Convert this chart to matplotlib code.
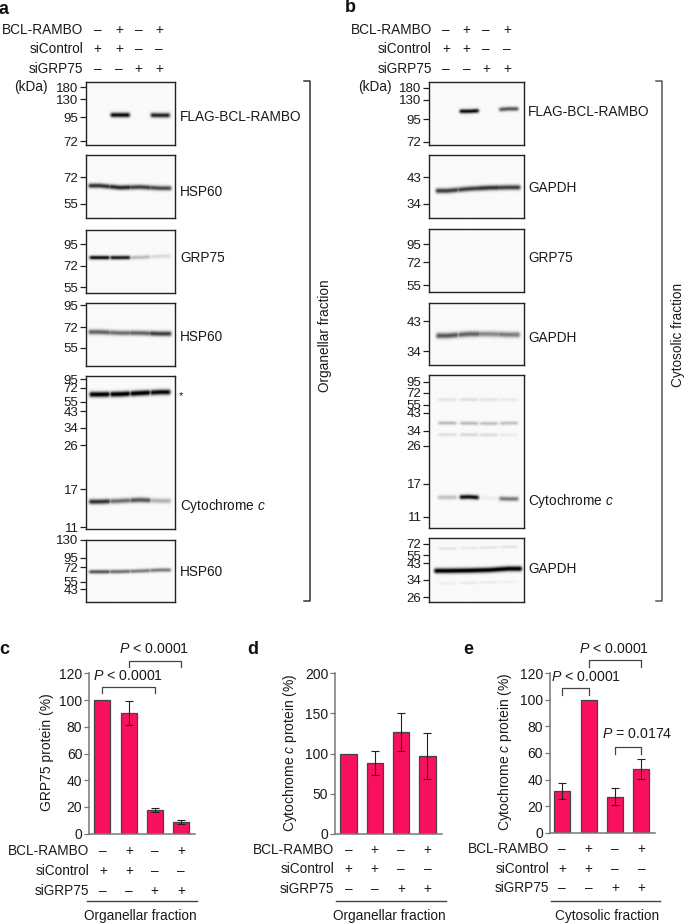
#Western blots en kwantificatie
import numpy as np
import matplotlib
matplotlib.use('Agg')
import matplotlib.pyplot as plt

plt.rcParams['font.family'] = ['Liberation Sans', 'DejaVu Sans']
plt.rcParams['mathtext.fontset'] = 'custom'
plt.rcParams['mathtext.rm'] = 'Liberation Sans'
plt.rcParams['mathtext.it'] = 'Liberation Sans:italic'

W, H = 685, 924
FS = 9.8
PINK = '#F9105F'

#data: lanes en treatments
row_names = ['BCL-RAMBO', 'siControl', 'siGRP75']
row_signs = [['–', '+', '–', '+'], ['+', '+', '–', '–'], ['–', '–', '+', '+']]

#data: staafdiagrammen
grp75_org = [100, 90, 18, 9]
grp75_org_err = [0, 9, 1.5, 1.5]
cyt_org = [100, 88, 127, 97]
cyt_org_err = [0, 15, 24, 29]
cyt_cyto = [31.5, 100, 27, 48]
cyt_cyto_err = [6, 0, 6.5, 7.5]

#data: marker labels (kDa)
a_kda = [['180', '130', '95', '72'], ['72', '55'], ['95', '72', '55'], ['95', '72', '55'],
         ['95', '72', '55', '43', '34', '26', '17', '11'], ['130', '95', '72', '55', '43']]
b_kda = [['180', '130', '95', '72'], ['43', '34'], ['95', '72', '55'], ['43', '34'],
         ['95', '72', '55', '43', '34', '26', '17', '11'], ['72', '55', '43', '34', '26']]
a_names = ['FLAG-BCL-RAMBO', 'HSP60', 'GRP75', 'HSP60', 'Cytochrome $\\mathit{c}$', 'HSP60']
b_names = ['FLAG-BCL-RAMBO', 'GAPDH', 'GRP75', 'GAPDH', 'Cytochrome $\\mathit{c}$', 'GAPDH']

#data: bandsterkte per lane (schatting)
a_flag = [0, 0.95, 0, 0.85]
a_hsp1 = [0.8, 0.85, 0.75, 0.7]
a_grp = [0.95, 0.9, 0.25, 0.13]
a_hsp2 = [0.6, 0.55, 0.6, 0.75]
a_star = [1.05, 1.05, 1.05, 0.98]
a_cyt = [0.8, 0.55, 0.65, 0.28]
a_hsp3 = [0.65, 0.55, 0.5, 0.5]
b_flag = [0, 0.95, 0, 0.65]
b_gapdh1 = [0.75, 0.75, 0.8, 0.75]
b_gapdh2 = [0.65, 0.6, 0.45, 0.5]
b_faint1 = [0.09, 0.11, 0.09, 0.07]
b_faint2 = [0.25, 0.25, 0.22, 0.22]
b_faint3 = [0.11, 0.14, 0.12, 0.06]
b_cyt = [0.22, 0.95, 0.05, 0.5]
b_gapdh3 = [1.05, 1.05, 1.05, 1.05]
b_faint4 = [0.09, 0.07, 0.09, 0.09]
b_faint5 = [0.05, 0.07, 0.06, 0.04]


def px_axes(fig, l, t, r, b):
    return fig.add_axes([l / W, 1 - b / H, (r - l) / W, (b - t) / H])


def draw_blot(fig, box, ticks, labels, bands, lanes, bg=0.02):
    l, t, r, b = box
    ax = px_axes(fig, l, t, r, b)
    xs = np.linspace(l, r, int((r - l) * 3))
    ys = np.linspace(t, b, int((b - t) * 3))
    X, Y = np.meshgrid(xs, ys)
    dark = np.zeros(X.shape)
    for signal, ypos, sigma, halfw in bands:
        yc = np.interp(X, lanes, ypos)   #band loopt door tussen de lanes
        for cx, s in zip(lanes, signal):
            if s == 0:
                continue
            across = np.clip((halfw - np.abs(X - cx)) / 5.0 + 0.5, 0, 1)
            across = across * across * (3 - 2 * across)
            blob = s * across * np.exp(-0.5 * ((Y - yc) / sigma) ** 2)
            dark = np.maximum(dark, blob)
    ax.imshow(1 - np.clip(dark + bg, 0, 1), cmap='gray', vmin=0, vmax=1, extent=(l, r, b, t), aspect='auto', interpolation='bilinear')
    ax.set_xlim(l, r)
    ax.set_ylim(b, t)
    ax.set_xticks([])
    ax.set_yticks(ticks)
    ax.set_yticklabels(labels, fontsize=FS - 0.3, color='#1a1a1a')
    ax.tick_params(axis='y', length=4.2, width=0.9, pad=0.8, color='#222222')
    for s in ax.spines.values():
        s.set_linewidth(1.0)
        s.set_color('#222222')
    return ax


def bar_panel(fig, box, values, errors, ymax, step, xleft, xright, ylabel, ylabel_x):
    l, t, r, b = box
    ax = px_axes(fig, l, t, r, b)
    pos = [1, 2, 3, 4]
    ax.bar(pos, values, width=0.61, color=PINK, edgecolor='#444444', linewidth=0.9, zorder=2)
    for p, v, e in zip(pos, values, errors):
        if e > 0:
            ax.errorbar(p, v, yerr=e, color='#222222', capsize=3.2, elinewidth=0.8, capthick=0.8, zorder=3)
    ax.set_xlim(xleft, xright)
    ax.set_ylim(0, ymax)
    ax.set_yticks(np.arange(0, ymax + 1, step))
    ax.set_xticks([])
    ax.tick_params(axis='y', labelsize=FS + 0.2, length=3.5, width=0.9, pad=1.5, color='#777777', labelcolor='#1a1a1a')
    ax.spines['top'].set_visible(False)
    ax.spines['right'].set_visible(False)
    ax.spines['left'].set_color('#777777')
    ax.spines['bottom'].set_color('#777777')
    ax.spines['left'].set_linewidth(1.1)
    ax.spines['bottom'].set_linewidth(1.1)
    ax.patch.set_alpha(0)
    page.text(ylabel_x, (t + b) / 2 - 1, ylabel, rotation=90, ha='center', va='center', fontsize=FS + 0.2, color='#1a1a1a')
    return ax


def sig_bracket(ax, x1, x2, top, drop):
    ax.plot([x1, x1, x2, x2], [top - drop, top, top, top - drop], color='#444444', lw=0.9, clip_on=False, zorder=4)


def treatment_rows(xs, ys, right):
    for name, signs, y in zip(row_names, row_signs, ys):
        page.text(right, y, name, ha='right', va='center', fontsize=FS, color='#1a1a1a')
        for x, sign in zip(xs, signs):
            page.text(x, y, sign, ha='center', va='center', fontsize=FS, color='#1a1a1a')


fig = plt.figure(figsize=(W / 100, H / 100), dpi=100)
page = fig.add_axes([0, 0, 1, 1])
page.set_xlim(0, W)
page.set_ylim(H, 0)
page.axis('off')

#panel a
a_boxes = [(85.5, 82, 175, 145), (85.5, 155, 175, 218), (85.5, 230, 175, 293),
           (85.5, 303, 175, 366), (85.5, 376, 175, 529), (85.5, 540, 175, 602)]
a_ticks = [[87, 99, 117, 141], [177, 204], [244, 266, 287], [305, 327, 348],
           [379, 388, 402, 411, 428, 445, 489, 527], [540, 558, 567, 582, 589]]
a_lanes = [99, 119.5, 139.5, 159.5]
a_bands = [[(a_flag, [115, 115, 115, 115.3], 1.7, 9.5)],
           [(a_hsp1, [185.7, 187.6, 187, 188.2], 1.7, 11)],
           [(a_grp, [257.6, 257.6, 257.4, 256.2], 1.4, 10)],
           [(a_hsp2, [332, 333, 333, 333.7], 1.8, 11)],
           [(a_star, [394.3, 394, 393, 392], 1.9, 10), (a_cyt, [501.8, 501, 500, 501], 1.8, 10.5)],
           [(a_hsp3, [571.8, 571.6, 571, 570], 1.4, 10.5)]]
a_label_y = [116.7, 191.7, 258, 336.7, 505.7, 572]
for box, tk, lb, bd, name, y in zip(a_boxes, a_ticks, a_kda, a_bands, a_names, a_label_y):
    draw_blot(fig, box, tk, lb, bd, a_lanes)
    page.text(180, y, name, ha='left', va='center', fontsize=FS, color='#1a1a1a')
page.text(179, 396, '*', ha='left', va='center', fontsize=8, color='#1a1a1a')
treatment_rows([97.7, 119, 138.7, 159], [29.7, 49.3, 68.7], 83)
page.text(47.7, 87, '(kDa)', ha='right', va='center', fontsize=FS, color='#1a1a1a')
page.plot([304, 310, 310, 304], [81, 81, 600.7, 600.7], color='#333333', lw=1.1)
page.text(325, 336, 'Organellar fraction', rotation=90, ha='center', va='center', fontsize=FS, color='#1a1a1a')

#panel b
b_boxes = [(428.5, 82, 524, 144.5), (428.5, 155, 524, 218), (428.5, 229, 524, 292),
           (428.5, 303, 524, 365), (428.5, 375, 524, 528), (428.5, 538, 524, 602)]
b_ticks = [[88, 100, 119, 142], [177, 204], [244, 262, 285], [321, 351],
           [382, 393, 405, 413, 431, 446, 484, 517], [544, 555, 563, 580, 597]]
b_lanes = [446.7, 468.5, 488, 508]
b_bands = [[(b_flag, [112, 112, 111, 109.6], 1.5, 9.5)],
           [(b_gapdh1, [190.8, 188.8, 187.8, 187.4], 1.8, 11.5)],
           [],
           [(b_gapdh2, [335.7, 334, 334, 334.7], 2.0, 11)],
           [(b_faint1, [399.5, 399.5, 399.5, 399.5], 1.2, 9), (b_faint2, [423, 423.2, 423.5, 423], 1.3, 9),
            (b_faint3, [434.7, 434.7, 434.9, 434.9], 1.2, 9), (b_cyt, [497.5, 497, 498.3, 499], 1.6, 9.5)],
           [(b_gapdh3, [570.8, 570.5, 570, 568.7], 1.8, 13), (b_faint4, [548.5, 548, 547.5, 546.7], 1.0, 9),
            (b_faint5, [583.5, 583, 582.5, 582], 1.0, 9)]]
b_label_y = [111.7, 188, 258, 338, 500.7, 568.7]
for box, tk, lb, bd, name, y in zip(b_boxes, b_ticks, b_kda, b_bands, b_names, b_label_y):
    draw_blot(fig, box, tk, lb, bd, b_lanes)
    page.text(528, y, name, ha='left', va='center', fontsize=FS, color='#1a1a1a')
treatment_rows([446, 466.7, 486, 507.3], [29.7, 49.3, 68.7], 431.7)
page.text(391.7, 87, '(kDa)', ha='right', va='center', fontsize=FS, color='#1a1a1a')
page.plot([656, 662, 662, 656], [81, 81, 600.7, 600.7], color='#555555', lw=1.1)
page.text(677.7, 335, 'Cytosolic fraction', rotation=90, ha='center', va='center', fontsize=FS, color='#1a1a1a')

#panel c
ax_c = bar_panel(fig, (89.3, 673.3, 195, 833.7), grp75_org, grp75_org_err, 120, 20, 0.511, 4.515, 'GRP75 protein (%)', 46.7)
sig_bracket(ax_c, 1, 3, 109.5, 4.5)
sig_bracket(ax_c, 2, 4, 129.3, 4.5)
page.text(128.3, 675.7, '$\\mathit{P}$ < 0.0001', ha='center', va='center', fontsize=FS + 0.4, color='#1a1a1a')
page.text(154.3, 649.3, '$\\mathit{P}$ < 0.0001', ha='center', va='center', fontsize=FS + 0.4, color='#1a1a1a')
treatment_rows([103.3, 129.3, 154.7, 181], [851, 870.7, 890.7], 89.3)
page.plot([86.7, 196.7], [901.3, 901.3], color='#444444', lw=1.0)
page.text(140, 916, 'Organellar fraction', ha='center', va='center', fontsize=FS, color='#1a1a1a')

#panel d
ax_d = bar_panel(fig, (335.3, 673.3, 441.7, 833.7), cyt_org, cyt_org_err, 200, 50, 0.5, 4.54, 'Cytochrome $\\mathit{c}$ protein (%)', 290)
treatment_rows([348.7, 374.7, 401.3, 427.5], [850, 869.3, 889], 334.3)
page.plot([336, 446], [901.3, 901.3], color='#444444', lw=1.0)
page.text(389.3, 916, 'Organellar fraction', ha='center', va='center', fontsize=FS, color='#1a1a1a')

#panel e
ax_e = bar_panel(fig, (549.7, 673.3, 655, 832.7), cyt_cyto, cyt_cyto_err, 120, 20, 0.52, 4.52, 'Cytochrome $\\mathit{c}$ protein (%)', 505)
sig_bracket(ax_e, 1, 2, 108.6, 5)
sig_bracket(ax_e, 2, 4, 130, 5)
sig_bracket(ax_e, 3, 4, 64.5, 5)
page.text(585.7, 676.7, '$\\mathit{P}$ < 0.0001', ha='center', va='center', fontsize=FS + 0.4, color='#1a1a1a')
page.text(614.3, 649.3, '$\\mathit{P}$ < 0.0001', ha='center', va='center', fontsize=FS + 0.4, color='#1a1a1a')
page.text(637, 734.3, '$\\mathit{P}$ = 0.0174', ha='center', va='center', fontsize=FS + 0.4, color='#1a1a1a')
treatment_rows([562.3, 588.7, 615, 641.5], [849, 869, 888.3], 549.3)
page.plot([551, 660], [901.3, 901.3], color='#444444', lw=1.0)
page.text(607, 916, 'Cytosolic fraction', ha='center', va='center', fontsize=FS, color='#1a1a1a')

#paneel letters
for letter, x, y in zip('abcde', [4, 350, 4, 253, 468], [9, 8, 649, 649, 649]):
    page.text(x, y, letter, ha='center', va='center', fontsize=13, fontweight='bold', color='#111111')

fig.savefig('out.png', dpi=100)
